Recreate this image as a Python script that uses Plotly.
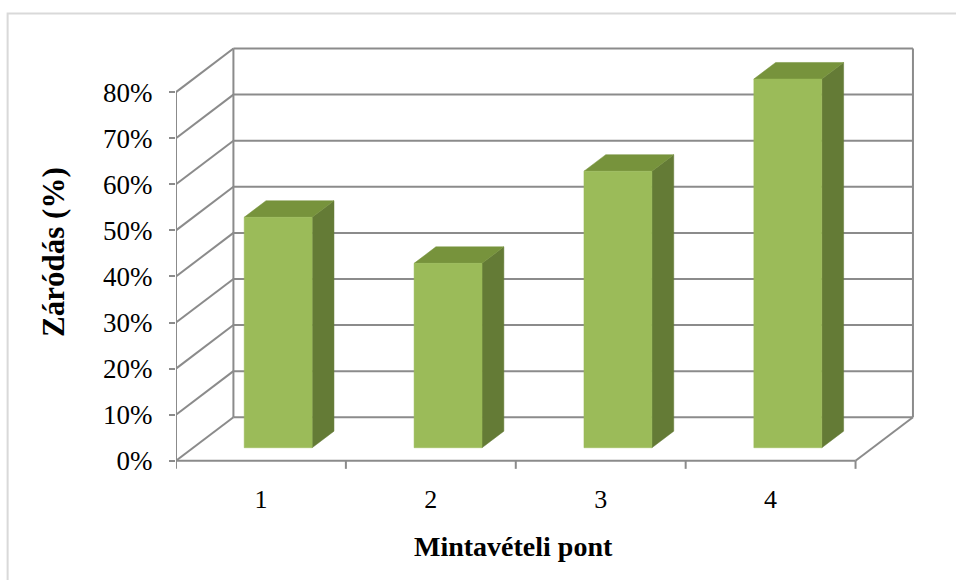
import plotly.graph_objects as go

# Data
categories = ["1", "2", "3", "4"]
germination = [50, 40, 60, 80]          # Záródás (%)
y_ticks = [0, 10, 20, 30, 40, 50, 60, 70, 80]
y_tick_labels = [f"{v}%" for v in y_ticks]

# Figure geometry (pixels)
W, H = 956, 580
M_L, M_T = 176, 46.1
PX_X = 170.0        # pixels per category unit
PX_Y = 4.61         # pixels per percent
X_RANGE = [0.5, 4.85]
Y_RANGE = [-2, 90]
plot_w = (X_RANGE[1] - X_RANGE[0]) * PX_X
plot_h = (Y_RANGE[1] - Y_RANGE[0]) * PX_Y
M_R = W - M_L - plot_w
M_B = H - M_T - plot_h

# Oblique projection for the pseudo-3D box
DX = 0.338          # depth offset in category units
DY = 9.45           # depth offset in percent units
BAR_D0, BAR_D1 = 0.30, 0.68   # bar front/back depth fractions
HALF_W = 0.2

GRID = "#8b8b8b"
FRONT = "#9BBB59"
TOP = "#77933C"
SIDE = "#647B36"
FONT = "Liberation Serif"

x_lo, x_hi = 0.5, 0.5 + len(categories)
vmax = y_ticks[-1]


def px_to_paper(px, py):
    return (px - M_L) / plot_w, 1 - (py - M_T) / plot_h


fig = go.Figure()


def add_segments(segs, color=GRID, width=2):
    xs, ys = [], []
    for (x0, y0), (x1, y1) in segs:
        xs += [x0, x1, None]
        ys += [y0, y1, None]
    fig.add_trace(go.Scatter(x=xs, y=ys, mode="lines",
                             line=dict(color=color, width=width),
                             hoverinfo="skip", showlegend=False))


# Walls, floor and gridlines
segs = []
for v in y_ticks:
    segs.append(((x_lo, v), (x_lo + DX, v + DY)))                 # side wall
    segs.append(((x_lo + DX, v + DY), (x_hi + DX, v + DY)))       # back wall
segs.append(((x_lo, 0), (x_lo, vmax)))
segs.append(((x_lo + DX, DY), (x_lo + DX, vmax + DY)))
segs.append(((x_hi + DX, DY), (x_hi + DX, vmax + DY)))
segs.append(((x_lo, 0), (x_hi, 0)))                               # floor front
segs.append(((x_hi, 0), (x_hi + DX, DY)))                         # floor right
# category boundary ticks
for k in range(len(categories) + 1):
    b = x_lo + k
    segs.append(((b, 0), (b, -1.75)))
add_segments(segs)


def add_poly(pts, color):
    xs = [p[0] for p in pts] + [pts[0][0]]
    ys = [p[1] for p in pts] + [pts[0][1]]
    fig.add_trace(go.Scatter(x=xs, y=ys, mode="lines", fill="toself",
                             fillcolor=color, line=dict(color=color, width=0.5),
                             hoverinfo="skip", showlegend=False))


# Bars
for i, v in enumerate(germination):
    c = i + 1
    fx0, fx1 = c - HALF_W + BAR_D0 * DX, c + HALF_W + BAR_D0 * DX
    bx0, bx1 = c - HALF_W + BAR_D1 * DX, c + HALF_W + BAR_D1 * DX
    fy0, fy1 = BAR_D0 * DY, v + BAR_D0 * DY
    by0, by1 = BAR_D1 * DY, v + BAR_D1 * DY
    add_poly([(fx1, fy0), (bx1, by0), (bx1, by1), (fx1, fy1)], SIDE)
    add_poly([(fx0, fy1), (fx1, fy1), (bx1, by1), (bx0, by1)], TOP)
    add_poly([(fx0, fy0), (fx1, fy0), (fx1, fy1), (fx0, fy1)], FRONT)

# Outer chart border
bx0p, by0p = px_to_paper(7.5, 13.5)
bx1p, by1p = px_to_paper(W + 5, H + 5)
fig.add_shape(type="rect", xref="paper", yref="paper",
              x0=bx0p, y0=by1p, x1=bx1p, y1=by0p,
              line=dict(color="#d9d9d9", width=2), fillcolor="rgba(0,0,0,0)")

# Axis titles
tx, ty = px_to_paper(514, 547)
fig.add_annotation(text="<b>Mintavételi pont</b>", xref="paper", yref="paper",
                   x=tx, y=ty, showarrow=False, xanchor="center", yanchor="middle",
                   font=dict(family=FONT, size=28, color="black"))
tx, ty = px_to_paper(54, 252)
fig.add_annotation(text="<b>Záródás (%)</b>", xref="paper", yref="paper",
                   x=tx, y=ty, showarrow=False, xanchor="center", yanchor="middle",
                   textangle=-90,
                   font=dict(family=FONT, size=31, color="black"))

fig.update_layout(
    width=W, height=H,
    margin=dict(l=M_L, r=M_R, t=M_T, b=M_B, pad=0),
    paper_bgcolor="white", plot_bgcolor="white",
    showlegend=False,
    xaxis=dict(range=X_RANGE, tickvals=[1, 2, 3, 4], ticktext=categories,
               showgrid=False, zeroline=False, showline=False, ticks="",
               tickfont=dict(family=FONT, size=26, color="black"),
               ticklabelstandoff=11, automargin=False, fixedrange=True),
    yaxis=dict(range=Y_RANGE, tickvals=y_ticks, ticktext=y_tick_labels,
               showgrid=False, zeroline=False, showline=False,
               ticks="outside", ticklen=6, tickwidth=2, tickcolor=GRID,
               tickfont=dict(family=FONT, size=27, color="black"),
               ticklabelstandoff=11, automargin=False, fixedrange=True),
)

fig.write_html("out.html", config={"displayModeBar": False})
